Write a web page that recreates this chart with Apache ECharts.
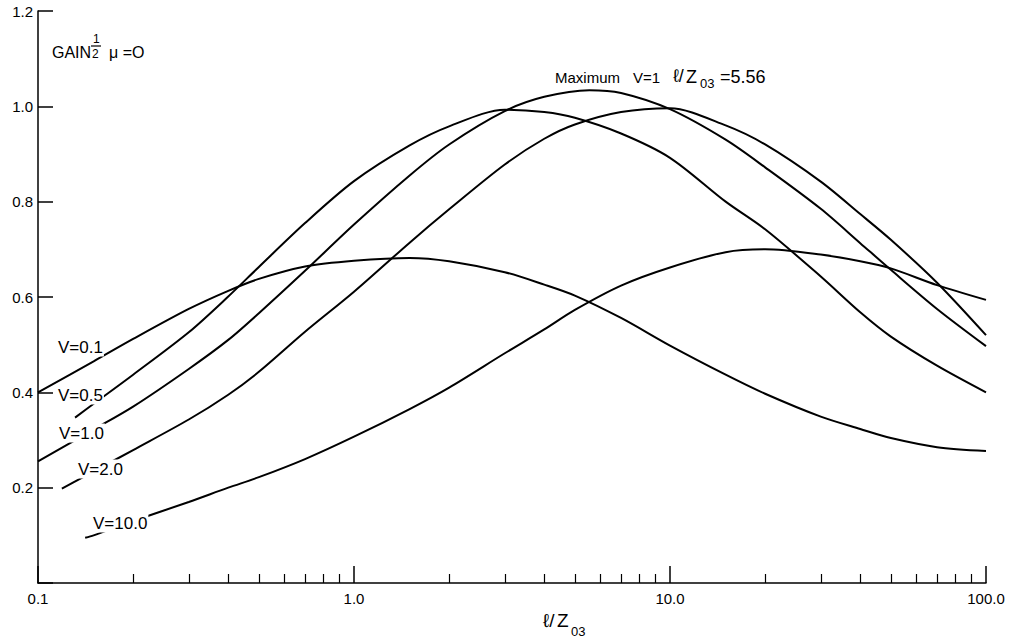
<!DOCTYPE html>
<html>
<head>
<meta charset="utf-8">
<script src="https://cdn.jsdelivr.net/npm/echarts@6/dist/echarts.min.js"></script>
<style>
  html, body { margin: 0; padding: 0; background: #fff; }
  #chart { width: 1013px; height: 639px; }
</style>
</head>
<body>
<div id="chart"></div>
<script>
// l/Z03 values and GAIN^1/2, one pair of arrays per curve
var xV01 = [0.1, 0.15, 0.2, 0.3, 0.4, 0.5, 0.7, 1, 1.5, 2, 3, 4, 5, 7, 10, 15, 20, 30, 40, 50, 70, 100];
var gV01 = [0.40, 0.465, 0.512, 0.575, 0.613, 0.638, 0.664, 0.676, 0.682, 0.675, 0.652, 0.626, 0.603, 0.556, 0.498, 0.437, 0.397, 0.349, 0.323, 0.304, 0.285, 0.277];

var xV05 = [0.131, 0.15, 0.2, 0.3, 0.4, 0.5, 0.7, 1, 1.5, 2, 3, 4, 5, 7, 10, 15, 20, 30, 40, 50, 70, 100];
var gV05 = [0.347, 0.376, 0.437, 0.526, 0.601, 0.663, 0.755, 0.843, 0.918, 0.958, 0.993, 0.988, 0.976, 0.943, 0.892, 0.80, 0.742, 0.643, 0.568, 0.517, 0.456, 0.40];

var xV1 = [0.1, 0.15, 0.2, 0.3, 0.4, 0.5, 0.7, 1, 1.5, 2, 3, 4, 5.56, 7, 10, 15, 20, 30, 40, 50, 70, 100];
var gV1 = [0.255, 0.322, 0.37, 0.449, 0.51, 0.566, 0.655, 0.752, 0.855, 0.92, 0.99, 1.02, 1.034, 1.028, 0.994, 0.93, 0.872, 0.785, 0.713, 0.657, 0.575, 0.497];

var xV2 = [0.119, 0.138, 0.15, 0.2, 0.3, 0.4, 0.5, 0.7, 1, 1.5, 2, 3, 4, 5, 7, 10, 15, 20, 30, 40, 50, 70, 100];
var gV2 = [0.198, 0.221, 0.234, 0.279, 0.343, 0.395, 0.443, 0.527, 0.611, 0.714, 0.784, 0.878, 0.932, 0.962, 0.988, 0.996, 0.96, 0.92, 0.842, 0.774, 0.72, 0.63, 0.52];

var xV10 = [0.141, 0.15, 0.2, 0.3, 0.4, 0.5, 0.7, 1, 1.5, 2, 3, 4, 5, 7, 10, 15, 20, 30, 40, 50, 70, 100];
var gV10 = [0.095, 0.10, 0.13, 0.17, 0.20, 0.222, 0.26, 0.307, 0.365, 0.41, 0.482, 0.532, 0.573, 0.624, 0.662, 0.694, 0.70, 0.689, 0.675, 0.66, 0.625, 0.594];

var curveNames = ['V=0.1', 'V=0.5', 'V=1.0', 'V=2.0', 'V=10.0'];

var xMinorTicks = [0.2, 0.3, 0.4, 0.5, 0.6, 0.7, 0.8, 0.9, 2, 3, 4, 5, 6, 7, 8, 9, 20, 30, 40, 50, 60, 70, 80, 90];

function pairs(xs, ys) {
  return xs.map(function(x, i) { return [x, ys[i]]; });
}

var font = 'Liberation Sans, DejaVu Sans, sans-serif';

var chart = echarts.init(document.getElementById('chart'), null, { renderer: 'svg' });

var curves = [pairs(xV01, gV01), pairs(xV05, gV05), pairs(xV1, gV1), pairs(xV2, gV2), pairs(xV10, gV10)];

function txt(x, y, s, size, extra) {
  var st = { text: s, fontSize: size, fontFamily: font, fill: '#000', verticalAlign: 'middle' };
  if (extra) for (var k in extra) st[k] = extra[k];
  return { type: 'text', x: x, y: y, z: 100, style: st };
}

var cover = { backgroundColor: '#fff', padding: [1, 1] };

chart.setOption({
  animation: false,
  backgroundColor: '#fff',
  grid: { left: 38, right: 27, top: 11, bottom: 56 },
  xAxis: [{
    type: 'log',
    logBase: 10,
    min: 0.1,
    max: 100,
    axisLine: { lineStyle: { color: '#000', width: 1.5 } },
    axisTick: { inside: true, length: 17, lineStyle: { color: '#000', width: 1.5 } },
    axisLabel: {
      color: '#000', fontSize: 15, fontFamily: font, margin: 8,
      formatter: function(v) { return v < 1 ? '0.1' : v.toFixed(1); }
    },
    splitLine: { show: false }
  }, {
    type: 'log',
    logBase: 10,
    min: 0.1,
    max: 100,
    position: 'bottom',
    axisLine: { show: false },
    axisTick: { inside: true, length: 9, customValues: xMinorTicks, lineStyle: { color: '#000', width: 1.2 } },
    axisLabel: { show: false },
    splitLine: { show: false }
  }],
  yAxis: {
    type: 'value',
    min: 0,
    max: 1.2,
    interval: 0.2,
    axisLine: { show: true, lineStyle: { color: '#000', width: 1.5 } },
    axisTick: { show: true, inside: true, length: 15, lineStyle: { color: '#000', width: 1.5 } },
    axisLabel: {
      color: '#000', fontSize: 15, fontFamily: font, margin: 5,
      formatter: function(v) { return v === 0 ? '' : v.toFixed(1); }
    },
    splitLine: { show: false }
  },
  series: curves.map(function(d, i) {
    return {
      name: curveNames[i],
      type: 'line',
      data: d,
      smooth: 0.3,
      symbol: 'none',
      lineStyle: { color: '#000', width: 2 }
    };
  }),
  graphic: [
    txt(57, 347, 'V=0.1', 17, cover),
    txt(57, 395, 'V=0.5', 17, cover),
    txt(58, 433, 'V=1.0', 17, cover),
    txt(77, 469, 'V=2.0', 17, cover),
    txt(92, 523, 'V=10.0', 17, cover),
    txt(52, 52, 'GAIN', 16),
    txt(93, 39, '1', 12),
    { type: 'line', z: 100, shape: { x1: 91, y1: 46, x2: 101, y2: 46 }, style: { stroke: '#000', lineWidth: 1.2 } },
    txt(92, 54, '2', 12),
    txt(109, 52, 'μ =O', 16),
    txt(555, 77, 'Maximum', 15),
    txt(633, 77, 'V=1', 15),
    txt(673, 76, 'ℓ/', 18),
    txt(686, 77, 'Z', 18),
    txt(700, 83, '03', 13),
    txt(720, 77, '=5.56', 18),
    txt(543, 620, 'ℓ/', 19),
    txt(557, 620, 'Z', 19),
    txt(571, 631, '03', 13)
  ]
});
</script>
</body>
</html>
